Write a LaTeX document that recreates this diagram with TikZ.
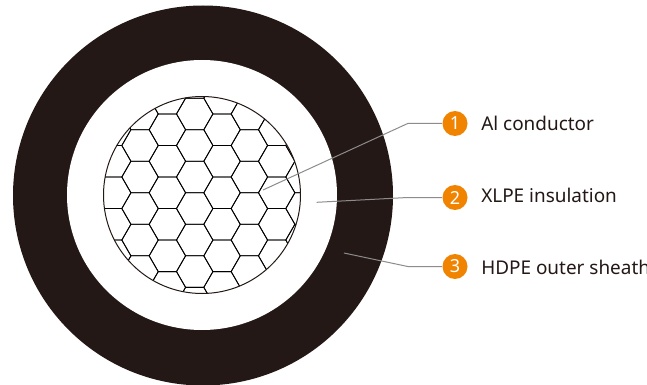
\documentclass[tikz,border=0pt]{standalone}
\usepackage{fontspec}
\setmainfont{Noto Sans}
\definecolor{sheath}{HTML}{231815}
\definecolor{badge}{HTML}{F08300}
\definecolor{leader}{HTML}{8C8C8C}
\tikzset{
  ring/.style={circle,fill=#1,draw=none,inner sep=0pt},
  wire/.style={draw=black,line width=0.62pt,line join=miter},
  leaderline/.style={draw=leader,line width=0.75pt},
  badgenode/.style={circle,fill=badge,text=white,minimum size=18.75pt,inner sep=0pt,font=\fontsize{13.5}{13.5}\selectfont},
  labeltext/.style={anchor=base west,inner sep=0pt,text=sheath,font=\fontsize{14.2}{14.2}\selectfont},
}
\begin{document}
\begin{tikzpicture}[x=0.75pt,y=-0.75pt]
\useasboundingbox (0,0) rectangle (647,385);
\fill[white] (0,0) rectangle (647,385);
\fill[sheath] (203,195.5) circle[radius=190];
\fill[white] (202,195) circle[radius=135];
\begin{scope}
\clip (202,195) circle[radius=98.5];
\foreach \i in {-4,...,4}{
  \foreach \j in {-4,...,4}{
    \pgfmathsetmacro{\cx}{194.7+27.33*\i}
    \pgfmathsetmacro{\cy}{177+31.53*\j+(iseven(\i)?0:15.77)}
    \draw[wire] (\cx-18.2,\cy) -- (\cx-9.1,\cy-15.77) -- (\cx+9.1,\cy-15.77) -- (\cx+18.2,\cy) -- (\cx+9.1,\cy+15.77) -- (\cx-9.1,\cy+15.77) -- cycle;
  }
}
\end{scope}
\draw[sheath,line width=0.75pt] (202,195) circle[radius=98.5];
\node[badgenode] (n1) at (455,123.5) {1};
\node[badgenode] (n2) at (455,197.5) {2};
\node[badgenode] (n3) at (455,266.5) {3};
\coordinate (e1) at (263,190);
\coordinate (b1) at (407.7,123.5);
\coordinate (e2) at (316.7,202.3);
\coordinate (b2) at (407.7,197.5);
\coordinate (e3) at (344,253);
\coordinate (b3) at (407.7,266.5);
\draw[leaderline] (e1) -- (b1) -- (n1);
\draw[leaderline] (e2) -- (b2) -- (n2);
\draw[leaderline] (e3) -- (b3) -- (n3);
\node[labeltext] (t1) at (481,131) {Al conductor};
\node[labeltext] (t2) at (481,203) {XLPE insulation};
\node[labeltext] (t3) at (481,274.5) {HDPE outer sheath};
\end{tikzpicture}
\end{document}
